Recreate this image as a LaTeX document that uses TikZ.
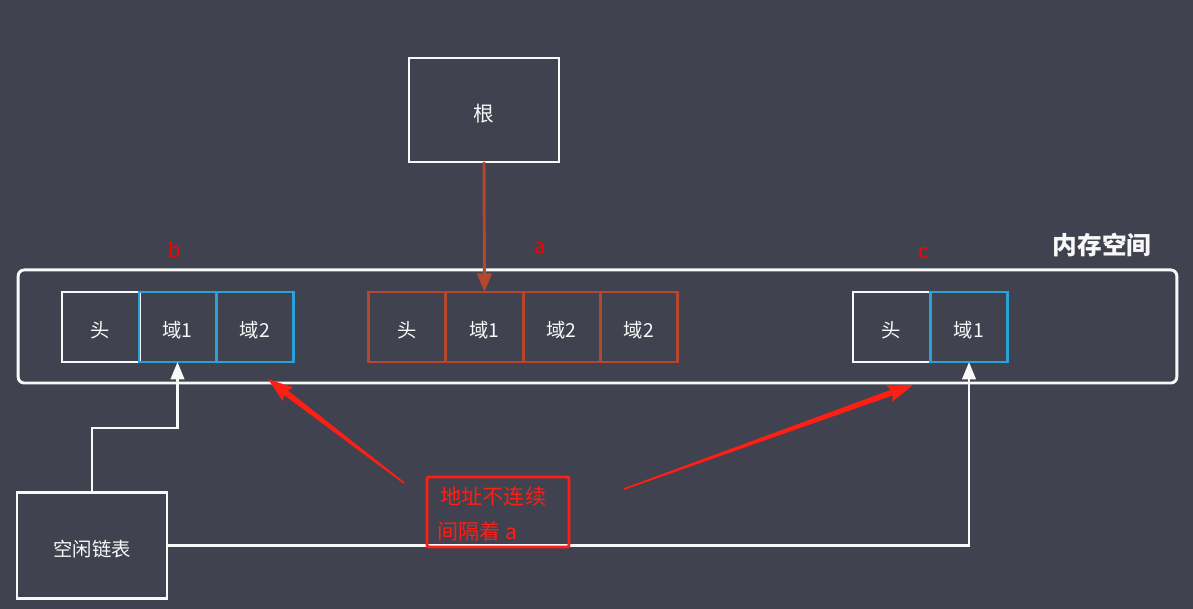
\documentclass[tikz,border=0pt]{standalone}
\usepackage{fontspec}
\setmainfont{Noto Sans CJK SC}
\usetikzlibrary{calc,arrows.meta}
\definecolor{bgc}{HTML}{41424F}
\definecolor{wc}{HTML}{F8F8F8}
\definecolor{brc}{HTML}{B4472E}
\definecolor{blc}{HTML}{2AA2D9}
\definecolor{redc}{HTML}{FF1E14}
\newcommand\dn[1]{\vphantom{#1}\smash{\raisebox{-2.5pt}{#1}}}
\tikzset{
  wbox/.style={draw=wc, line width=2.2pt, text=wc, inner sep=0pt, outer sep=0pt},
  cellw/.style={draw=wc, line width=2.2pt, text=wc, inner sep=0pt, outer sep=0pt, minimum width=57.8pt, minimum height=52.5pt, font=\fontsize{14.5}{16}\selectfont},
  cellb/.style={cellw, draw=blc},
  cellr/.style={cellw, draw=brc},
  lbl/.style={text=red, font=\fontsize{15}{16}\selectfont, inner sep=0pt},
  wline/.style={draw=wc, line width=2.2pt},
  warrow/.style={wline, -{Triangle[width=10pt,length=13pt]}},
}
\newcommand\taper[2]{%
  \coordinate (#2h) at ($(#2)!17pt!(#1)$);
  \coordinate (#2b) at ($(#2)!19pt!(#1)$);
  \fill[redc] ($(#1)!0.6pt!90:(#2)$) -- ($(#2h)!2.2pt!90:(#2)$) -- ($(#2b)!6.5pt!90:(#2)$) -- (#2)
    -- ($(#2b)!6.5pt!-90:(#2)$) -- ($(#2h)!2.2pt!-90:(#2)$) -- ($(#1)!0.6pt!-90:(#2)$) -- cycle;}
\begin{document}
\begin{tikzpicture}[x=0.75pt,y=-0.75pt]
\useasboundingbox (0,0) rectangle (1193,609);
\fill[bgc] (0,0) rectangle (1193,609);

% memory space
\node[draw=wc, line width=2.2pt, rounded corners=4.5pt, minimum width=869pt, minimum height=84.8pt, inner sep=0pt] (mem) at (597.5,326.5) {};
\node[text=wc, font=\bfseries\fontsize{18.5}{20}\selectfont, inner sep=0pt] (memlbl) at (1102,245) {内存空间};

% root
\node[wbox, minimum width=112.5pt, minimum height=78pt, font=\fontsize{15.5}{16}\selectfont] (root) at (484,110) {\dn{根}};

% block b
\node[cellw] (bh) at (100.5,327) {\dn{头}};
\node[cellb] (b1) at (177.5,327) {\dn{域1}};
\node[cellb] (b2) at (255,327) {\dn{域2}};
\node[lbl] (lb) at (175,250) {b};

% block a
\node[cellr] (ah) at (407,327) {\dn{头}};
\node[cellr] (a1) at (484.5,327) {\dn{域1}};
\node[cellr] (a2) at (561.5,327) {\dn{域2}};
\node[cellr] (a3) at (639,327) {\dn{域2}};
\node[lbl] (la) at (540,248) {a};

% block c
\node[cellw] (ch) at (891.5,327) {\dn{头}};
\node[cellb] (c1) at (969,327) {\dn{域1}};
\node[lbl] (lc) at (924,253) {c};

% free list
\node[wbox, minimum width=112.5pt, minimum height=78.8pt, font=\fontsize{14.5}{16}\selectfont] (free) at (92,545.5) {\dn{空闲链表}};

% connectors
\draw[brc, line width=2.2pt, -{Triangle[width=11pt,length=14pt]}] (root.south) -- (a1.north);
\draw[warrow] (free.north) -- (free.north |- 0,428) -| (b1.south);
\draw[warrow] (free.east) -| (c1.south);

% note box
\node[draw=redc, line width=2.2pt, rounded corners=1.5pt, minimum width=106.5pt, minimum height=52.5pt, inner sep=0pt] (note) at (498,512) {};
\node[text=redc, align=left, font=\fontsize{15.8}{26}\selectfont, inner sep=0pt, anchor=west] (notetxt) at (437,514) {\,地址不连续\\间隔着 a};

% red tapered arrows
\coordinate (t1) at (404,483);
\coordinate (p1) at (268,379);
\coordinate (t2) at (624,489);
\coordinate (p2) at (913,385);
\taper{t1}{p1}
\taper{t2}{p2}
\end{tikzpicture}
\end{document}
